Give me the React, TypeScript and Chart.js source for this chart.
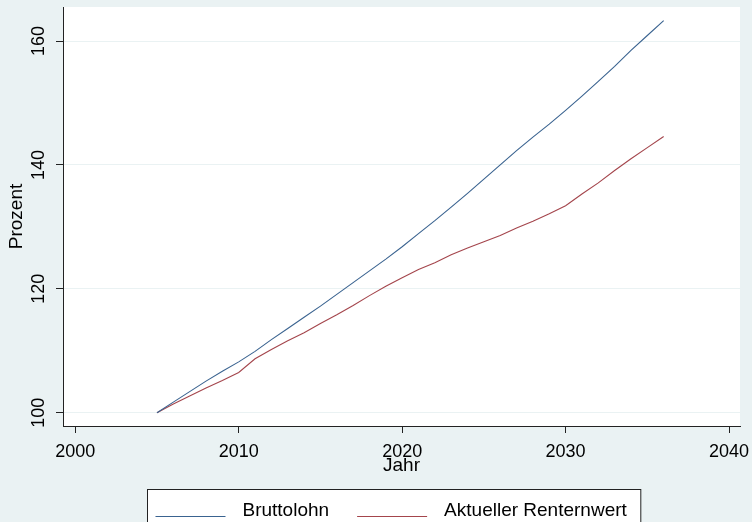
import React, { useEffect, useRef } from "react";
import { Chart, registerables } from "chart.js";

Chart.register(...registerables);

const years = [
  2005, 2006, 2007, 2008, 2009, 2010, 2011, 2012, 2013, 2014, 2015, 2016, 2017, 2018, 2019, 2020,
  2021, 2022, 2023, 2024, 2025, 2026, 2027, 2028, 2029, 2030, 2031, 2032, 2033, 2034, 2035, 2036,
];
const bruttolohn = [
  100.0, 101.7, 103.4, 105.1, 106.7, 108.2, 109.9, 111.8, 113.6, 115.4, 117.2, 119.1, 121.0, 122.9, 124.8, 126.8,
  128.9, 131.0, 133.2, 135.4, 137.7, 140.0, 142.3, 144.5, 146.6, 148.8, 151.1, 153.5, 155.9, 158.5, 160.9, 163.3,
];
const rentenwert = [
  100.0, 101.4, 102.7, 104.0, 105.2, 106.5, 108.7, 110.2, 111.6, 112.9, 114.4, 115.8, 117.3, 118.9, 120.4, 121.8,
  123.1, 124.2, 125.5, 126.6, 127.6, 128.6, 129.8, 130.9, 132.1, 133.4, 135.3, 137.1, 139.1, 141.0, 142.8, 144.6,
];
const xTicks = [2000, 2010, 2020, 2030, 2040];
const yTicks = [100, 120, 140, 160];
const seriesLabels = ["Bruttolohn", "Aktueller Renternwert"];
const seriesColors = ["#3a6390", "#a4454c"];
const xTitle = "Jahr";
const yTitle = "Prozent";

const BG = "#eaf2f3";
const FONT = "'Liberation Sans', Arial, sans-serif";
const AXIS = "#222222";

const plotBg = {
  id: "plotBg",
  beforeDraw(chart: any) {
    const { ctx, chartArea: a } = chart;
    ctx.save();
    ctx.fillStyle = "#ffffff";
    ctx.fillRect(a.left, a.top, a.right - a.left, a.bottom - a.top);
    ctx.restore();
  },
};

const boxLegend = {
  id: "boxLegend",
  afterDraw(chart: any) {
    const ctx = chart.ctx;
    const ds = chart.data.datasets;
    ctx.save();
    ctx.font = `19px ${FONT}`;
    const padL = 8, lineLen = 70, gapText = 17, gapItem = 28, padR = 14;
    let total = padL + padR;
    ds.forEach((d: any, i: number) => {
      total += lineLen + gapText + ctx.measureText(d.label).width + (i < ds.length - 1 ? gapItem : 0);
    });
    const bx = 147.5;
    const by = 489.5;
    ctx.fillStyle = "#ffffff";
    ctx.fillRect(bx, by, total, 60);
    ctx.strokeStyle = AXIS;
    ctx.lineWidth = 1;
    ctx.strokeRect(bx, by, total, 60);
    let x = bx + padL;
    const ly = 516.5;
    ds.forEach((d: any) => {
      ctx.strokeStyle = d.borderColor;
      ctx.lineWidth = 1.2;
      ctx.beginPath();
      ctx.moveTo(x, ly);
      ctx.lineTo(x + lineLen, ly);
      ctx.stroke();
      x += lineLen + gapText;
      ctx.fillStyle = "#000000";
      ctx.textBaseline = "alphabetic";
      ctx.textAlign = "left";
      ctx.fillText(d.label, x, 516);
      x += ctx.measureText(d.label).width + gapItem;
    });
    ctx.restore();
  },
};

export default function App() {
  const ref = useRef<HTMLCanvasElement | null>(null);

  useEffect(() => {
    if (!ref.current) return;
    const chart = new Chart(ref.current, {
      type: "line",
      data: {
        datasets: [
          {
            label: seriesLabels[0],
            data: years.map((y, i) => ({ x: y, y: bruttolohn[i] })),
            borderColor: seriesColors[0],
            borderWidth: 1.1,
            pointRadius: 0,
            tension: 0,
            fill: false,
          },
          {
            label: seriesLabels[1],
            data: years.map((y, i) => ({ x: y, y: rentenwert[i] })),
            borderColor: seriesColors[1],
            borderWidth: 1.1,
            pointRadius: 0,
            tension: 0,
            fill: false,
          },
        ],
      },
      options: {
        animation: false,
        responsive: false,
        maintainAspectRatio: false,
        layout: { padding: { top: 7, right: 12, left: 0, bottom: 0 } },
        plugins: {
          legend: { display: false },
          tooltip: { enabled: false },
        },
        scales: {
          x: {
            type: "linear",
            min: 1999.25,
            max: 2040.67,
            afterBuildTicks: (s: any) => {
              s.ticks = xTicks.map((v) => ({ value: v }));
            },
            afterFit: (s: any) => {
              s.height = 96;
              s.paddingLeft = 0;
              s.paddingRight = 0;
            },
            grid: {
              drawOnChartArea: false,
              drawTicks: true,
              tickLength: 7,
              tickColor: AXIS,
            },
            border: { display: true, color: AXIS, width: 1 },
            ticks: {
              autoSkip: false,
              maxRotation: 0,
              minRotation: 0,
              padding: 8,
              color: "#000000",
              font: { family: FONT, size: 18 },
              callback: (v: any) => String(v),
            },
            title: {
              display: true,
              text: xTitle,
              color: "#000000",
              font: { family: FONT, size: 19 },
              padding: { top: 0, bottom: 44.6 },
            },
          },
          y: {
            type: "linear",
            min: 97.85,
            max: 165.5,
            afterBuildTicks: (s: any) => {
              s.ticks = yTicks.map((v) => ({ value: v }));
            },
            afterFit: (s: any) => {
              s.width = 63;
              s.paddingTop = 0;
              s.paddingBottom = 0;
            },
            grid: {
              drawOnChartArea: true,
              color: BG,
              lineWidth: 1,
              drawTicks: true,
              tickLength: 7,
              tickColor: AXIS,
            },
            border: { display: true, color: AXIS, width: 1 },
            ticks: {
              autoSkip: false,
              minRotation: 90,
              maxRotation: 90,
              crossAlign: "center",
              padding: 2,
              color: "#000000",
              font: { family: FONT, size: 18 },
              callback: (v: any) => String(v),
            },
            title: {
              display: true,
              text: yTitle,
              color: "#000000",
              font: { family: FONT, size: 19 },
              padding: { top: 5.6, bottom: 0 },
            },
          },
        },
      },
      plugins: [plotBg, boxLegend],
    } as any);
    return () => chart.destroy();
  }, []);

  return (
    <div
      style={{
        position: "absolute",
        left: 0,
        top: 0,
        width: 752,
        height: 522,
        background: BG,
        overflow: "hidden",
      }}
    >
      <canvas ref={ref} width={752} height={522} style={{ display: "block" }} />
    </div>
  );
}
